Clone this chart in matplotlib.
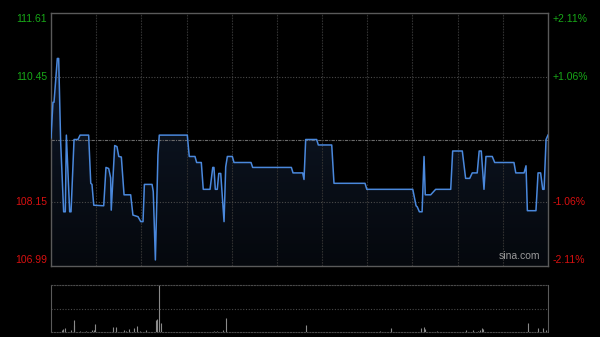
import numpy as np
import matplotlib
matplotlib.use("Agg")
import matplotlib.pyplot as plt
from matplotlib.patches import Polygon
from matplotlib.colors import LinearSegmentedColormap

# ---- data ----
prev_close = 109.30
y_ticks = [106.99, 108.15, 110.45, 111.61]
pct_labels = ["-2.11%", "-1.06%", "+1.06%", "+2.11%"]

# trading minutes since 9:30 (HK session, 330 minutes) and prices
minutes = [0, 1.3, 2, 4.2, 5.1, 6.4, 8.4, 9.5, 10.2, 12.4, 13.3, 15.3, 17.9, 19.3, 25,
           26.4, 27.2, 28.4, 35, 36.5, 38.3, 39.6, 40, 42.3, 43.8, 45, 46.7, 48.5, 52.9,
           54.4, 57.8, 59.6, 61.1, 62, 67.1, 67.9, 69.3, 71, 71.9, 90.5, 91.8, 95.6, 96.7,
           99.8, 101.1, 105.6, 107.4, 108.2, 109.1, 110.4, 111.4, 112.7, 114.9, 116, 117.1,
           120.4, 121.5, 132.8, 133.9, 159.6, 160.7, 167.1, 168, 169.1, 176.4, 177.5, 186.4,
           187.9, 208.5, 209.7, 240.2, 242.4, 243.2, 244.6, 246.4, 247.7, 248.5, 252.1,
           255.4, 265.4, 266.7, 273.1, 275.3, 278, 279.7, 283, 284.3, 285.7, 287.5, 288.8,
           293, 294.6, 307.4, 308.6, 314.1, 315.4, 316.3, 322, 323.4, 325.1, 326.5, 327.4,
           328.7, 330]
prices = [109.33, 109.98, 109.98, 110.78, 110.78, 109.26, 107.98, 107.98, 109.38, 107.98,
          107.98, 109.30, 109.30, 109.38, 109.38, 108.50, 108.48, 108.10, 108.09, 108.79,
          108.77, 108.60, 108.01, 109.19, 109.17, 108.99, 108.98, 108.29, 108.29, 107.92,
          107.89, 107.80, 107.80, 108.48, 108.48, 108.35, 107.10, 109.02, 109.38, 109.38,
          108.99, 108.99, 108.88, 108.88, 108.39, 108.39, 108.79, 108.79, 108.39, 108.39,
          108.68, 108.68, 107.80, 108.80, 108.99, 108.99, 108.88, 108.88, 108.79, 108.79,
          108.69, 108.69, 108.57, 109.30, 109.30, 109.20, 109.20, 108.50, 108.50, 108.39,
          108.39, 108.09, 108.07, 107.98, 107.98, 108.99, 108.29, 108.29, 108.39, 108.39,
          109.09, 109.09, 108.59, 108.59, 108.69, 108.69, 109.09, 109.09, 108.39, 108.99,
          108.99, 108.88, 108.88, 108.69, 108.69, 108.82, 108.00, 108.00, 108.69, 108.69,
          108.39, 108.39, 109.30, 109.38]

vol_minutes = [7, 8, 9, 13, 15, 15.5, 19, 23, 27, 28.5, 29, 41, 43, 48.5, 50, 51.5, 55,
               57, 59, 63, 69.5, 70.5, 71.5, 73, 108, 110, 114.5, 116.5, 169.5, 218.5,
               226, 245.5, 247.5, 248.5, 256, 275.5, 280, 283.5, 285, 286, 287,
               317, 323.5, 326.5, 329]
vol_values = [20, 35, 45, 25, 120, 70, 10, 15, 20, 20, 80, 50, 50, 20, 15, 30, 45, 60, 10,
              20, 120, 135, 470, 90, 10, 10, 20, 145, 70, 10, 40, 40, 50, 30, 10, 25, 20,
              15, 20, 40, 30, 95, 40, 40, 20]

# ---- styling ----
BG = "#000000"
FRAME = "#5a5a5a"
GRID = "#303030"
LINE = "#4a88dc"
GREEN = "#18a818"
RED = "#d81010"

plt.rcParams['font.family'] = ['Liberation Sans', 'DejaVu Sans']
fig = plt.figure(figsize=(6, 3.37), dpi=100, facecolor=BG)

ax = fig.add_axes([51/600, 1-266/337, 497/600, 253/337], facecolor=BG)
ymin, ymax = y_ticks[0], y_ticks[-1]
ax.set_xlim(0, 330)
ax.set_ylim(ymin, ymax)

# gradient fill under line
grad = np.linspace(0, 1, 256).reshape(-1, 1)
cmap = LinearSegmentedColormap.from_list("g", ["#05080d", "#111c2e"])
im = ax.imshow(grad, extent=[0, 330, ymin, ymax], origin="lower", aspect="auto",
               cmap=cmap, zorder=1)
verts = [(minutes[0], ymin)] + list(zip(minutes, prices)) + [(minutes[-1], ymin)]
poly = Polygon(verts, closed=True, facecolor="none", edgecolor="none")
ax.add_patch(poly)
im.set_clip_path(poly)

# grid
for i in range(1, 11):
    ax.axvline(i * 30, color=GRID, lw=0.8, ls=(0, (1.5, 1)), zorder=2)
for v in [y_ticks[1], y_ticks[2]]:
    ax.axhline(v, color="#4a4a4a", lw=0.8, ls=(0, (1, 1.5)), zorder=2)
ax.axhline(prev_close, color="#6a6a6a", lw=0.8, ls=(0, (3, 1, 1, 1)), zorder=2)

ax.plot(minutes, prices, color=LINE, lw=1.1, zorder=3)

ax.set_xticks([])
ax.set_yticks([])
for s in ax.spines.values():
    s.set_color(FRAME)
    s.set_linewidth(1.0)

# labels
offsets = {0: 6, 1: 0, 2: 0, 3: -6}
for i, v in enumerate(y_ticks):
    col = GREEN if v > prev_close else RED
    ax.annotate(f"{v:.2f}", xy=(0, v), xycoords="data", xytext=(-4, offsets[i]),
                textcoords="offset pixels", ha="right", va="center", color=col,
                fontsize=7.5, annotation_clip=False)
    ax.annotate(pct_labels[i], xy=(330, v), xycoords="data", xytext=(5, offsets[i]),
                textcoords="offset pixels", ha="left", va="center", color=col,
                fontsize=7.5, annotation_clip=False)

ax.text(0.985, 0.018, "sina.com", transform=ax.transAxes, ha="right", va="bottom",
        color="#9a9a9a", fontsize=7.5, zorder=4)

# volume panel
vax = fig.add_axes([51/600, 1-332/337, 497/600, 47/337], facecolor=BG)
vmax = max(vol_values)
vax.set_xlim(0, 330)
vax.set_ylim(0, vmax)
vax.vlines(vol_minutes, 0, vol_values, color="#8a8a8a", lw=0.8)
vax.axhline(vmax / 2, color="#4a4a4a", lw=0.8, ls=(0, (1, 1.5)))
vax.set_xticks([])
vax.set_yticks([])
for k in ["left", "right"]:
    vax.spines[k].set_color(FRAME)
for k in ["top", "bottom"]:
    vax.spines[k].set_color("#4a4a4a")
    vax.spines[k].set_linestyle((0, (1, 1.5)))

fig.savefig("out.png", dpi=100, facecolor=BG)
